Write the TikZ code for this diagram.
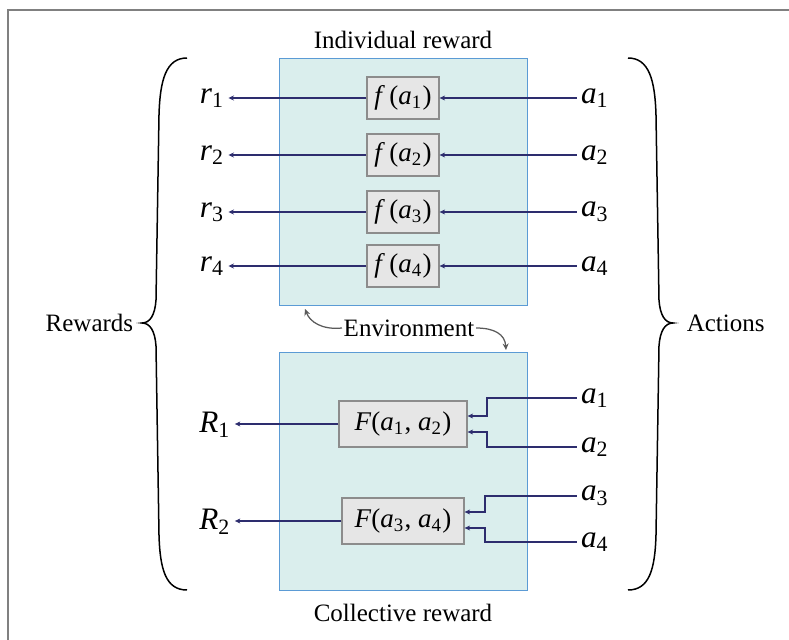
\documentclass[tikz,border=0pt]{standalone}
\usepackage{fontspec}
\setmainfont{Liberation Serif}
\usetikzlibrary{arrows.meta,positioning,calc}
\definecolor{envfill}{RGB}{218,238,237}
\definecolor{envdraw}{RGB}{91,155,213}
\definecolor{boxfill}{RGB}{230,230,230}
\definecolor{boxdraw}{RGB}{140,140,140}
\definecolor{arrcol}{RGB}{45,45,110}
\definecolor{notecol}{RGB}{90,90,90}
\definecolor{framecol}{RGB}{128,128,128}
\newcommand{\vsub}[2]{\textit{#1}\textsubscript{#2}}

\begin{document}
\begin{tikzpicture}[x=0.4pt, y=-0.4pt,
    every node/.style={font=\fontsize{10}{12}\selectfont},
    envbox/.style={draw=envdraw, fill=envfill, line width=0.4pt},
    funcbox/.style={draw=boxdraw, fill=boxfill, line width=0.5pt, inner sep=1pt,
      minimum width=28.8pt, minimum height=16.8pt, font=\fontsize{10.8}{12}\selectfont},
    lbl/.style={inner sep=1.5pt, font=\fontsize{12.5}{14}\selectfont},
    arr/.style={-{Stealth[length=2.2pt,width=2pt]}, arrcol, line width=0.5pt},
    notearr/.style={-{Stealth[length=2.6pt,width=2.4pt]}, notecol, line width=0.5pt},
    brace/.style={line width=0.6pt, black}]
    \useasboundingbox (0,0) rectangle (789,640);
    \draw[framecol, line width=0.8pt] (8,10) rectangle (810,660);
    % Environment boxes
    \draw[envbox] (279,58) rectangle (527,305);
    \draw[envbox] (279,352) rectangle (527,590);
    \node (indiv) at (403,40) {Individual reward};
    \node (coll) at (403,613) {Collective reward};
    \node[inner sep=0.5pt] (env) at (409,328) {Environment};
    \coordinate (envtop) at (305,309);
    \coordinate (envbot) at (506,350);
    \draw[notearr] (env.west) .. controls (322,330) and (310,322) .. (envtop);
    \draw[notearr] (env.east) .. controls (494,328) and (505,334) .. (envbot);
    % Individual reward rows
    \foreach \i/\y in {1/98, 2/155, 3/212, 4/266} {
      \node[funcbox] (f\i) at (403,\y) {\textit{f}\,(\vsub{a}{\i})};
      \node[lbl] (r\i) at (212,\y) {\vsub{r}{\i}};
      \node[lbl] (a\i) at (595,\y) {\vsub{a}{\i}};
      \draw[arr] (f\i.west) -- (f\i.west -| r\i.east);
      \draw[arr] (a\i.west |- f\i.east) -- (f\i.east);
    }
    % Collective reward rows
    \node[funcbox, minimum width=51.2pt, minimum height=18.4pt] (F1) at (403,424)
      {\textit{F}(\vsub{a}{1}, \vsub{a}{2})};
    \node[funcbox, minimum width=48.8pt, minimum height=18.4pt] (F2) at (403,521)
      {\textit{F}(\vsub{a}{3}, \vsub{a}{4})};
    \node[lbl] (R1) at (215,425) {\vsub{R}{1}};
    \node[lbl] (R2) at (215,522) {\vsub{R}{2}};
    \draw[arr] (F1.west) -- (F1.west -| R1.east);
    \draw[arr] (F2.west) -- (F2.west -| R2.east);
    \foreach \j/\y/\kx/\ky in {1/398/487/416, 2/447/487/432, 3/496/485/512, 4/542/485/528} {
      \node[lbl] (b\j) at (595,\y) {\vsub{a}{\j}};
      \coordinate (k\j) at (\kx,\ky);
    }
    \draw[arr] (b1.west) -| (k1) -- (k1 -| F1.east);
    \draw[arr] (b2.west) -| (k2) -- (k2 -| F1.east);
    \draw[arr] (b3.west) -| (k3) -- (k3 -| F2.east);
    \draw[arr] (b4.west) -| (k4) -- (k4 -| F2.east);
    % Braces
    \draw[brace] (187,58) .. controls (166,58) and (160,80) .. (159,115)
      -- (156,300) .. controls (155,315) and (150,323) .. (142,323)
      .. controls (150,323) and (155,331) .. (156,346)
      -- (159,535) .. controls (160,570) and (166,590) .. (187,590);
    \draw[brace] (628,58) .. controls (649,58) and (655,80) .. (656,115)
      -- (659,300) .. controls (660,315) and (665,323) .. (673,323)
      .. controls (665,323) and (660,331) .. (659,346)
      -- (656,535) .. controls (655,570) and (649,590) .. (628,590);
    \node[left=0pt of {(142,323)}] (rew) {Rewards};
    \node[right=2pt of {(673,323)}] (act) {Actions};
  \end{tikzpicture}
\end{document}
